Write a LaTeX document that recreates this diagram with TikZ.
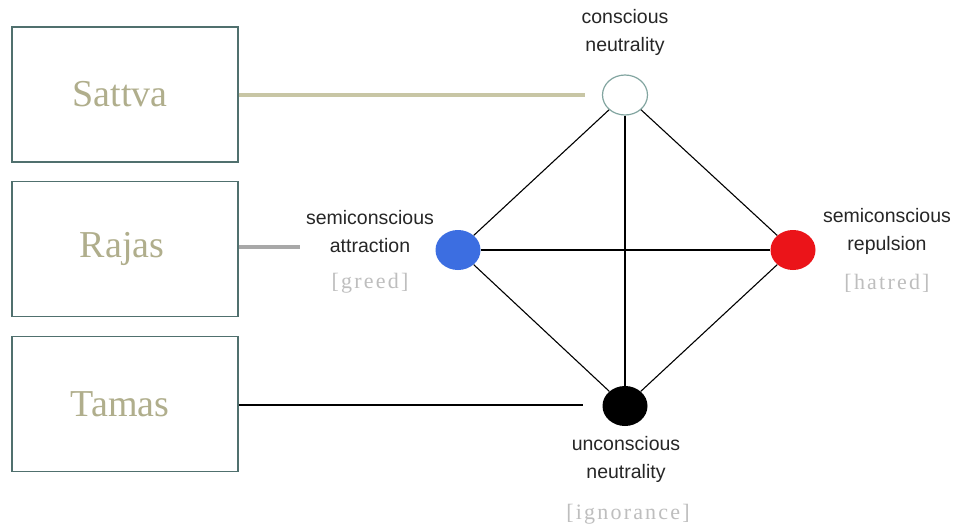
\documentclass[tikz,border=0pt]{standalone}
\usepackage{fontspec}
\setmainfont{Liberation Serif}
\setsansfont{Liberation Sans}
\usetikzlibrary{shapes.geometric}
\definecolor{boxline}{RGB}{80,112,110}
\definecolor{guna}{RGB}{176,174,140}
\definecolor{sattvaline}{RGB}{200,198,165}
\definecolor{rajasline}{RGB}{168,168,168}
\definecolor{bracket}{RGB}{190,190,190}
\definecolor{topring}{RGB}{130,165,160}
\definecolor{bluedot}{RGB}{60,110,225}
\definecolor{reddot}{RGB}{235,20,25}
\tikzset{
  gunabox/.style={draw=boxline, line width=1.4pt, minimum width=226pt, minimum height=135pt, inner sep=0pt,
    font=\fontsize{38}{40}\selectfont, text=guna},
  dot/.style={ellipse, minimum width=45pt, minimum height=40pt, inner sep=0pt},
  lbl/.style={font=\sffamily\fontsize{19.5}{28}\selectfont, align=center, text=black!85},
  brk/.style={font=\fontsize{22}{24}\selectfont\addfontfeature{LetterSpace=10}, text=bracket},
  edge/.style={draw=black, line width=1.1pt}
}
\begin{document}
\begin{tikzpicture}[x=1pt,y=-1pt]
\useasboundingbox (0,0) rectangle (956,527);
\fill[white] (0,0) rectangle (956,527);
% boxes
\node[gunabox] (sattva) at (125,94.5) {Sattva\kern10pt};
\node[gunabox] (rajas) at (125,249) {Rajas\kern6pt};
\node[gunabox] (tamas) at (125,404) {Tamas\kern10pt};
% dots
\node[dot, draw=topring, line width=1.2pt, fill=white] (top) at (625,95) {};
\node[dot, fill=bluedot] (blue) at (458,250) {};
\node[dot, fill=reddot] (red) at (793,250) {};
\node[dot, fill=black] (bottom) at (625,406) {};
% free ends
\coordinate (sEnd) at (585,95);
\coordinate (rEnd) at (300,247);
\coordinate (tEnd) at (583,405);
% guna connectors
\draw[sattvaline, line width=3.5pt] (sattva.east |- sEnd) -- (sEnd);
\draw[rajasline, line width=4pt] (rajas.east |- rEnd) -- (rEnd);
\draw[black, line width=2.5pt] (tamas.east |- tEnd) -- (tEnd);
% diamond edges
\draw[edge] (top) -- (blue);
\draw[edge] (top) -- (red);
\draw[edge] (top) -- (bottom);
\draw[edge] (blue) -- (red);
\draw[edge] (blue) -- (bottom);
\draw[edge] (red) -- (bottom);
% labels
\node[lbl] (ltop) at (625,32) {conscious\\neutrality};
\node[lbl] (lblue) at (370,232) {semiconscious\\attraction};
\node[brk] (bblue) at (370,283) {[greed]};
\node[lbl] (lred) at (887,231) {semiconscious\\repulsion};
\node[brk] (bred) at (887,283) {[hatred]};
\node[lbl] (lbottom) at (626,459) {unconscious\\neutrality};
\node[brk] (bbottom) at (628,514) {[ignorance]};
\end{tikzpicture}
\end{document}
